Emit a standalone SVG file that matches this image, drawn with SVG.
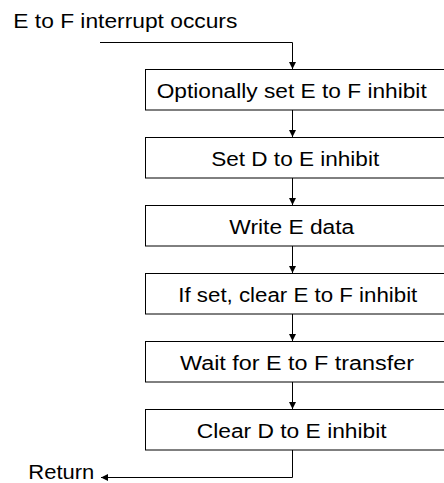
<svg xmlns="http://www.w3.org/2000/svg" width="444" height="483" viewBox="0 0 444 483">
<style>
.box{fill:#fff;stroke:#000;stroke-width:1}
.t{font-family:"Liberation Sans",Arial,sans-serif;font-size:20px;fill:#000}
.c{text-anchor:middle}
.ln{fill:none;stroke:#000;stroke-width:1}
</style>
<defs>
<marker id="ah" markerUnits="userSpaceOnUse" markerWidth="8" markerHeight="8" viewBox="0 0 8 8" refX="7" refY="4" orient="auto">
<path d="M0,0.5 L7,4 L0,7.5 Z" fill="#000"/>
</marker>
</defs>
<g id="connectors">
<path class="ln" d="M100,42.5 H292.5 V69" marker-end="url(#ah)"/>
<path class="ln" d="M292.5,110 V137" marker-end="url(#ah)"/>
<path class="ln" d="M292.5,178 V205" marker-end="url(#ah)"/>
<path class="ln" d="M292.5,246 V273" marker-end="url(#ah)"/>
<path class="ln" d="M292.5,314 V341" marker-end="url(#ah)"/>
<path class="ln" d="M292.5,382 V409" marker-end="url(#ah)"/>
<path class="ln" d="M292.5,450 V477.5 H101" marker-end="url(#ah)"/>
</g>
<g id="start"><text class="t" x="13.3" y="28.3" textLength="224" lengthAdjust="spacingAndGlyphs">E to F interrupt occurs</text></g>
<g id="n1"><rect class="box" x="145.5" y="69.5" width="302" height="40.5"/><text class="t c" x="291.7" y="97.7" textLength="270" lengthAdjust="spacingAndGlyphs">Optionally set E to F inhibit</text></g>
<g id="n2"><rect class="box" x="145.5" y="137.5" width="302" height="40.5"/><text class="t c" x="295.2" y="165.7" textLength="168" lengthAdjust="spacingAndGlyphs">Set D to E inhibit</text></g>
<g id="n3"><rect class="box" x="145.5" y="205.5" width="302" height="40.5"/><text class="t c" x="291.8" y="233.7" textLength="125" lengthAdjust="spacingAndGlyphs">Write E data</text></g>
<g id="n4"><rect class="box" x="145.5" y="273.5" width="302" height="40.5"/><text class="t c" x="297.8" y="301.7" textLength="239" lengthAdjust="spacingAndGlyphs">If set, clear E to F inhibit</text></g>
<g id="n5"><rect class="box" x="145.5" y="341.5" width="302" height="40.5"/><text class="t c" x="297" y="369.7" textLength="234" lengthAdjust="spacingAndGlyphs">Wait for E to F transfer</text></g>
<g id="n6"><rect class="box" x="145.5" y="409.5" width="302" height="40.5"/><text class="t c" x="291.7" y="437.7" textLength="190" lengthAdjust="spacingAndGlyphs">Clear D to E inhibit</text></g>
<g id="end"><text class="t" x="28.3" y="478.5" textLength="66" lengthAdjust="spacingAndGlyphs">Return</text></g>
</svg>
